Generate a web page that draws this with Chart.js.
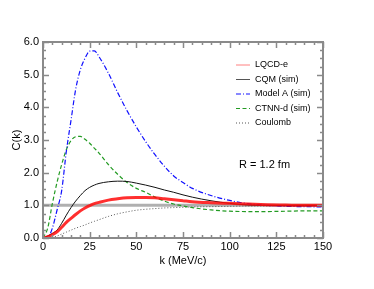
<!DOCTYPE html>
<html>
<head>
<meta charset="utf-8">
<script src="https://cdn.jsdelivr.net/npm/chart.js@4.4.1/dist/chart.umd.min.js"></script>
<style>
  html, body { margin: 0; padding: 0; background: #fff; }
  #wrap { width: 374px; height: 289px; position: relative; }
</style>
</head>
<body>
<div id="wrap"><canvas id="c"></canvas></div>
<script>
// k grid (MeV/c) shared by every curve
const kValues = [0, 2.5, 5, 7.5, 10, 12.5, 15, 17.5, 20, 22.5, 25, 27.5, 30, 35, 40, 45, 50, 55, 60, 65, 70, 75, 80, 90, 100, 110, 120, 130, 140, 150];

const lqcdE   = [0, 0.04, 0.10, 0.19, 0.33, 0.48, 0.60, 0.72, 0.83, 0.92, 0.99, 1.05, 1.09, 1.16, 1.20, 1.23, 1.24, 1.24, 1.23, 1.20, 1.17, 1.14, 1.11, 1.08, 1.06, 1.04, 1.02, 1.01, 1.00, 1.00];
const cqm     = [0, 0.06, 0.14, 0.24, 0.45, 0.70, 0.93, 1.13, 1.30, 1.45, 1.55, 1.62, 1.67, 1.72, 1.74, 1.73, 1.68, 1.62, 1.55, 1.47, 1.40, 1.32, 1.25, 1.14, 1.06, 1.01, 1.00, 0.99, 0.99, 0.99];
const modelA  = [0, 0.02, 0.30, 0.85, 1.45, 2.65, 3.60, 4.55, 5.15, 5.50, 5.72, 5.73, 5.55, 5.05, 4.45, 3.90, 3.40, 2.95, 2.55, 2.20, 1.90, 1.70, 1.52, 1.30, 1.15, 1.05, 1.00, 0.97, 0.96, 0.95];
const ctnnD   = [0, 0.30, 1.05, 1.70, 2.25, 2.70, 2.98, 3.10, 3.11, 3.02, 2.90, 2.75, 2.60, 2.25, 1.95, 1.70, 1.52, 1.40, 1.25, 1.13, 1.04, 0.98, 0.93, 0.86, 0.82, 0.81, 0.81, 0.82, 0.83, 0.83];
const coulomb = [0, 0.00, 0.02, 0.06, 0.12, 0.18, 0.24, 0.30, 0.35, 0.40, 0.46, 0.51, 0.56, 0.66, 0.74, 0.80, 0.85, 0.88, 0.90, 0.92, 0.93, 0.94, 0.95, 0.96, 0.97, 0.98, 0.98, 0.99, 0.99, 0.99];

// reference line C(k) = 1
const refK = [0, 150];
const refC = [1, 1];

const xTicks = [0, 25, 50, 75, 100, 125, 150];
const yTicks = [0, 1, 2, 3, 4, 5, 6];
const annotationText = 'R = 1.2 fm';

const pts = (ks, vs) => ks.map((k, i) => ({ x: k, y: vs[i] }));
const FONT = 'Liberation Sans';

// inward ticks on all four sides plus the frame
const frameTicks = {
  id: 'frameTicks',
  afterDraw(chart) {
    const { ctx, chartArea: a, scales: { x, y } } = chart;
    ctx.save();
    ctx.strokeStyle = '#8a8a8a';
    ctx.lineWidth = 1.5;
    ctx.beginPath();
    for (let k = 0; k <= 150; k += 5) {
      const px = Math.round(x.getPixelForValue(k)) + 0.5;
      const len = k % 25 === 0 ? 6 : 3;
      ctx.moveTo(px, a.bottom); ctx.lineTo(px, a.bottom - len);
      ctx.moveTo(px, a.top); ctx.lineTo(px, a.top + len);
    }
    for (let i = 0; i <= 24; i++) {
      const v = i * 0.25;
      const py = Math.round(y.getPixelForValue(v)) + 0.5;
      const len = i % 4 === 0 ? 6 : 3;
      ctx.moveTo(a.left, py); ctx.lineTo(a.left + len, py);
      ctx.moveTo(a.right, py); ctx.lineTo(a.right - len, py);
    }
    ctx.stroke();
    ctx.lineWidth = 2;
    ctx.strokeRect(a.left, a.top, a.right - a.left, a.bottom - a.top);
    ctx.restore();
  }
};

// legend inside the plot, upper right, plus the R label
const insideLegend = {
  id: 'insideLegend',
  afterDraw(chart) {
    const { ctx, chartArea: a, scales: { x, y } } = chart;
    ctx.save();
    ctx.font = '9px "' + FONT + '"';
    ctx.textBaseline = 'middle';
    ctx.fillStyle = '#000';
    const x0 = a.left + 193, y0 = a.top + 23, dy = 14.5;
    chart.data.datasets.filter(d => d.label).forEach((d, i) => {
      const yy = y0 + i * dy;
      ctx.beginPath();
      ctx.strokeStyle = d.legendColor || d.borderColor;
      ctx.lineWidth = 1;
      ctx.setLineDash(d.borderDash || []);
      ctx.moveTo(x0, yy); ctx.lineTo(x0 + 14, yy);
      ctx.stroke();
      ctx.setLineDash([]);
      ctx.fillText(d.label, x0 + 19, yy);
    });
    ctx.font = '11px "' + FONT + '"';
    ctx.fillText(annotationText, x.getPixelForValue(105), y.getPixelForValue(2.23));
    ctx.restore();
  }
};

const lineBase = { pointRadius: 0, fill: false, cubicInterpolationMode: 'monotone' };

new Chart(document.getElementById('c'), {
  type: 'line',
  data: {
    datasets: [
      { ...lineBase, label: 'LQCD-e', data: pts(kValues, lqcdE), borderColor: 'rgba(255,10,10,0.85)', legendColor: '#ff8080', borderWidth: 3, order: 1 },
      { ...lineBase, label: 'CQM (sim)', data: pts(kValues, cqm), borderColor: '#111', legendColor: '#555', borderWidth: 1, order: 2 },
      { ...lineBase, label: 'Model A (sim)', data: pts(kValues, modelA), borderColor: '#1010ff', borderDash: [5, 2, 1, 2], borderWidth: 1.2, order: 2 },
      { ...lineBase, label: 'CTNN-d (sim)', data: pts(kValues, ctnnD), borderColor: '#239b23', borderDash: [4, 2.5], borderWidth: 1.2, order: 2 },
      { ...lineBase, label: 'Coulomb', data: pts(kValues, coulomb), borderColor: '#555', borderDash: [1, 2], borderWidth: 1, order: 2 },
      { ...lineBase, label: '', data: pts(refK, refC), borderColor: '#b0b0b0', borderWidth: 3, order: 10 }
    ]
  },
  options: {
    responsive: true,
    maintainAspectRatio: false,
    animation: false,
    layout: { padding: { top: 42, right: 51, left: 0, bottom: 0 } },
    plugins: { legend: { display: false }, tooltip: { enabled: false } },
    scales: {
      x: {
        type: 'linear', min: 0, max: 150,
        afterBuildTicks: s => { s.ticks = xTicks.map(v => ({ value: v })); },
        afterFit: s => { s.height = 51; },
        grid: { display: false, drawTicks: false },
        border: { display: false },
        ticks: { padding: 2, color: '#000', font: { family: FONT, size: 11 }, maxRotation: 0 },
        title: { display: true, text: 'k (MeV/c)', color: '#000', font: { family: FONT, size: 11 }, padding: { top: 0, bottom: 21.5 } }
      },
      y: {
        type: 'linear', min: 0, max: 6,
        afterBuildTicks: s => { s.ticks = yTicks.map(v => ({ value: v })); },
        afterFit: s => { s.width = 43; },
        grid: { display: false, drawTicks: false },
        border: { display: false },
        ticks: { padding: 4, color: '#000', font: { family: FONT, size: 11 }, callback: v => v.toFixed(1) },
        title: { display: true, text: 'C(k)', color: '#000', font: { family: FONT, size: 11 }, padding: { top: 10, bottom: 0 } }
      }
    }
  },
  plugins: [frameTicks, insideLegend]
});
</script>
</body>
</html>
